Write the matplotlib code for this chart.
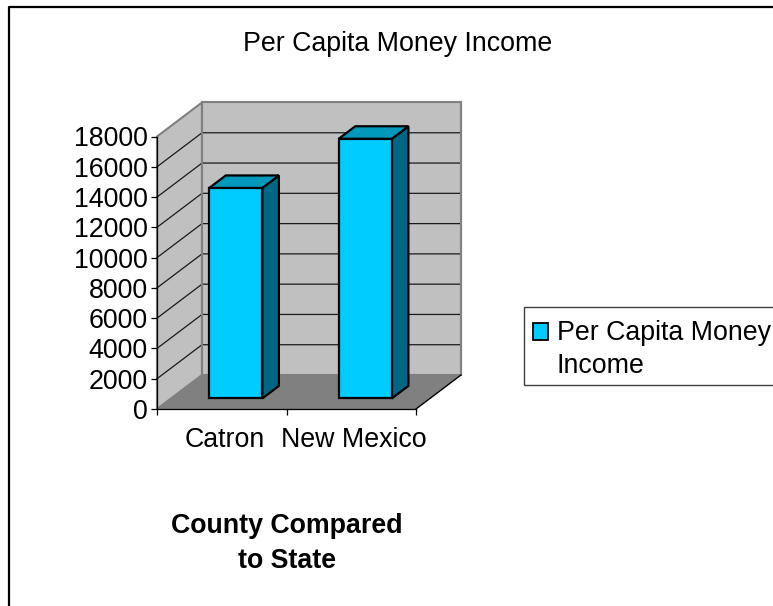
import matplotlib
matplotlib.use('Agg')
import matplotlib.pyplot as plt
from matplotlib.legend_handler import HandlerPatch
from matplotlib.lines import Line2D
from matplotlib.patches import Patch, Polygon, Rectangle

plt.rcParams['font.family'] = ['Liberation Sans', 'DejaVu Sans']

categories = ['Catron', 'New Mexico']
income = [13900, 17150]
y_ticks = list(range(0, 18001, 2000))
series_name = 'Per Capita Money\nIncome'
chart_title = 'Per Capita Money Income'
x_title = 'County Compared\nto State'

W, H = 773, 606
# front plane of the 3d box, in pixels
left, right, top, bottom = 157, 416, 136.5, 409
# how far the back wall is shifted from the front plane
depth_x, depth_y = 45, 34
ymax = 18000
fs = 19.3

fig = plt.figure(figsize=(W / 100, H / 100), dpi=100, facecolor='white')
ax = fig.add_axes([left / W, 1 - bottom / H, (right - left) / W, (bottom - top) / H])
ax.set_xlim(0, len(categories))
ax.set_ylim(0, ymax)
ax.patch.set_visible(False)

def proj(x, y, d):
    # x in categories, y in value, d = depth 0 (front) to 1 (back)
    dx = d * depth_x * len(categories) / (right - left)
    dy = d * depth_y * ymax / (bottom - top)
    return (x + dx, y + dy)

def face(pts, color, edge, lw, z):
    ax.add_patch(Polygon([proj(*p) for p in pts], closed=True, facecolor=color,
                         edgecolor=edge, linewidth=lw, zorder=z, clip_on=False,
                         joinstyle='miter'))

n = len(categories)
# walls and floor
face([(0, 0, 0), (0, ymax, 0), (0, ymax, 1), (0, 0, 1)], '#c0c0c0', '#808080', 1.5, 1)
face([(0, 0, 1), (0, ymax, 1), (n, ymax, 1), (n, 0, 1)], '#c0c0c0', '#808080', 1.5, 1)
face([(0, 0, 0), (0, 0, 1), (n, 0, 1), (n, 0, 0)], '#808080', 'none', 0, 1.5)

# gridlines on both walls
for v in y_ticks[1:-1]:
    pts = [proj(0, v, 0), proj(0, v, 1), proj(n, v, 1)]
    ax.plot(*zip(*pts), color='#1a1a1a', lw=0.9, zorder=2, clip_on=False)

# back wall left edge over the gridlines, floor right edge
ax.plot(*zip(proj(0, 0, 1), proj(0, ymax, 1)), color='#808080', lw=1.5, zorder=2.1, clip_on=False)
ax.plot(*zip(proj(n, 0, 1), proj(n, ymax, 1)), color='#808080', lw=1.5, zorder=2.1, clip_on=False)
ax.plot(*zip(proj(n, 0, 0), proj(n, 0, 1)), color='black', lw=1, zorder=2.1, clip_on=False)

# bars
bar_w = 0.41
d0, d1 = 0.31, 0.68
for i, val in enumerate(income):
    x0 = i + 0.5 - bar_w / 2
    x1 = i + 0.5 + bar_w / 2
    z = 3 + i
    face([(x1, 0, d0), (x1, val, d0), (x1, val, d1), (x1, 0, d1)], '#006685', 'black', 1.6, z)
    face([(x0, val, d0), (x0, val, d1), (x1, val, d1), (x1, val, d0)], '#0099bb', 'black', 1.6, z)
    face([(x0, 0, d0), (x0, val, d0), (x1, val, d0), (x1, 0, d0)], '#00ccff', 'black', 1.6, z)

# axes
for s in ['top', 'right']:
    ax.spines[s].set_visible(False)
for s in ['left', 'bottom']:
    ax.spines[s].set_linewidth(0.9)
    ax.spines[s].set_zorder(2.5)
ax.set_yticks(y_ticks)
ax.set_xticks(range(n + 1))
ax.set_xticklabels([])
ax.set_xticks([i + 0.52 for i in range(n)], minor=True)
ax.set_xticklabels(categories, minor=True)
ax.tick_params(axis='both', which='major', length=4, width=0.9, labelsize=fs)
ax.tick_params(axis='x', which='minor', length=0, labelsize=fs, pad=13)
ax.tick_params(axis='y', pad=2.7)

fig.text(398 / W, 1 - 44 / H, chart_title, ha='center', va='center', fontsize=fs)
fig.text(286.5 / W, 1 - 543.5 / H, x_title, ha='center', va='center', fontsize=fs,
         fontweight='bold', linespacing=1.46)

def first_line_patch(legend, orig_handle, xdescent, ydescent, width, height, fontsize):
    # keep the swatch next to the first line of the label
    return Rectangle((-xdescent, -ydescent + 13.3), width, height)

# legend frame runs off the right edge like the original
fig.add_artist(Rectangle((523.5 / W, 1 - 385 / H), 300 / W, 78 / H, transform=fig.transFigure,
                         facecolor='white', edgecolor='#404040', linewidth=1))

handle = Patch(facecolor='#00ccff', edgecolor='black', linewidth=1.3)
leg = fig.legend([handle], [series_name], loc='lower left',
                 bbox_to_anchor=(522.5 / W, 1 - 390 / H), bbox_transform=fig.transFigure,
                 fontsize=fs, frameon=False,
                 borderaxespad=0, borderpad=0.4, handlelength=0.56, handleheight=0.56,
                 handletextpad=0.313,
                 handler_map={Patch: HandlerPatch(patch_func=first_line_patch)})
leg.get_texts()[0].set_linespacing(1.37)

# chart frame, only top and left are in the picture
fig.add_artist(Line2D([8.5 / W, 8.5 / W, 1], [0, 1 - 6.5 / H, 1 - 6.5 / H], color='black', lw=1.6))

fig.savefig('out.png', dpi=100)
